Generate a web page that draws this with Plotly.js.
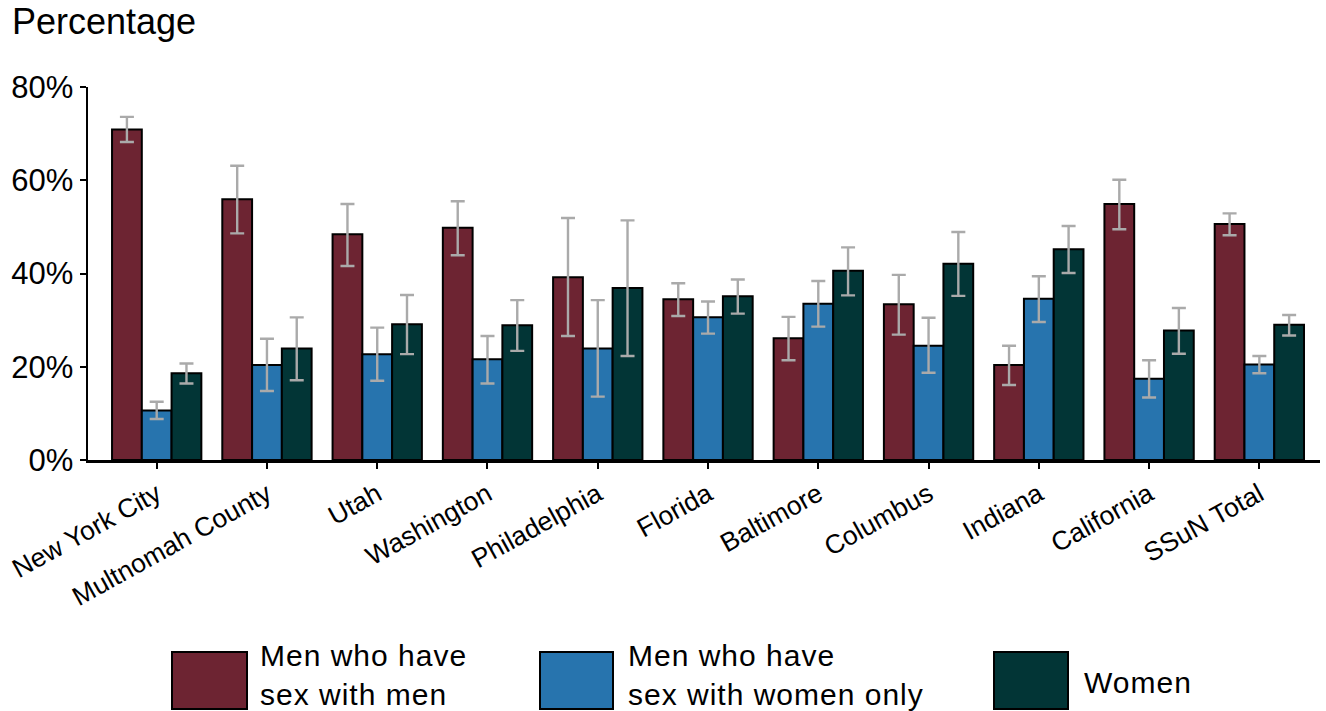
<!DOCTYPE html>
<html>
<head>
<meta charset="utf-8">
<script src="https://cdn.plot.ly/plotly-3.0.1.min.js"></script>
<style>
html,body{margin:0;padding:0;background:#fff;}
#chart{width:1326px;height:711px;}
#chart .annotation-text{letter-spacing:1px;}
</style>
</head>
<body>
<div id="chart"></div>
<script>
var categories = ["New York City","Multnomah County","Utah","Washington","Philadelphia","Florida","Baltimore","Columbus","Indiana","California","SSuN Total"];

var msmValues = [70.9, 55.9, 48.4, 49.8, 39.2, 34.5, 26.1, 33.4, 20.4, 54.9, 50.6];
var msmUpper  = [73.6, 63.1, 54.9, 55.5, 51.9, 37.9, 30.7, 39.7, 24.5, 60.1, 52.9];
var msmLower  = [68.2, 48.6, 41.6, 43.9, 26.6, 30.9, 21.4, 26.9, 16.1, 49.5, 48.2];

var mswValues = [10.6, 20.4, 22.7, 21.6, 23.9, 30.6, 33.5, 24.5, 34.6, 17.4, 20.5];
var mswUpper  = [12.5, 26.0, 28.4, 26.6, 34.3, 34.0, 38.4, 30.5, 39.4, 21.4, 22.3];
var mswLower  = [8.8, 14.8, 17.0, 16.4, 13.6, 27.1, 28.6, 18.7, 29.6, 13.4, 18.6];

var womenValues = [18.6, 23.9, 29.1, 28.9, 36.9, 35.1, 40.6, 42.1, 45.2, 27.8, 29.0];
var womenUpper  = [20.7, 30.6, 35.4, 34.3, 51.4, 38.7, 45.6, 48.9, 50.2, 32.6, 31.1];
var womenLower  = [16.4, 17.1, 22.7, 23.4, 22.3, 31.4, 35.3, 35.2, 40.1, 22.8, 26.7];

var seriesNames = ["Men who have sex with men", "Men who have sex with women only", "Women"];
var legendLabels = ["Men who have<br>sex with men", "Men who have<br>sex with women only", "Women"];
var seriesColors = ["#6d2432", "#2774ae", "#023536"];
var yTickVals = [0, 20, 40, 60, 80];
var yTickText = ["0%", "20%", "40%", "60%", "80%"];

function diff(a, b) { return a.map(function (v, i) { return +(v - b[i]).toFixed(2); }); }

function makeTrace(name, vals, up, lo, color) {
  return {
    type: "bar",
    name: name,
    x: categories,
    y: vals,
    marker: { color: color, line: { color: "#000000", width: 2 } },
    error_y: {
      type: "data", symmetric: false,
      array: diff(up, vals), arrayminus: diff(vals, lo),
      color: "#aaaaaa", thickness: 2.4, width: 7
    },
    showlegend: false,
    hovertemplate: "%{x}<br>%{y}%<extra>" + name + "</extra>"
  };
}

var traces = [
  makeTrace(seriesNames[0], msmValues, msmUpper, msmLower, seriesColors[0]),
  makeTrace(seriesNames[1], mswValues, mswUpper, mswLower, seriesColors[1]),
  makeTrace(seriesNames[2], womenValues, womenUpper, womenLower, seriesColors[2])
];

var FONT = "Liberation Sans, Arial, sans-serif";
var L = 88, T = 87, W = 1232, H = 373;
function px(x) { return (x - L) / W; }
function py(y) { return (T + H - y) / H; }

var swatchX = [[172, 247], [540, 613], [994, 1068]];
var labelX = [259, 627, 1083];

var shapes = swatchX.map(function (sx, i) {
  return { type: "rect", xref: "paper", yref: "paper", x0: px(sx[0]), x1: px(sx[1]), y0: py(652), y1: py(709),
    fillcolor: seriesColors[i], line: { color: "#000", width: 2 } };
});

var annotations = legendLabels.map(function (t, i) {
  var two = t.indexOf("<br>") >= 0;
  return { text: t, xref: "paper", yref: "paper", x: px(labelX[i]), y: two ? py(712) : py(682),
    xanchor: "left", yanchor: two ? "bottom" : "middle",
    showarrow: false, align: "left", borderpad: 0, font: { family: FONT, size: 30, color: "#000" } };
});

var layout = {
  width: 1326, height: 711,
  margin: { l: L, r: 1326 - L - W, t: T, b: 711 - T - H, pad: 0 },
  paper_bgcolor: "#ffffff", plot_bgcolor: "#ffffff",
  font: { family: FONT, color: "#000" },
  title: { text: "Percentage", xref: "container", yref: "container", x: 12 / 1326, xanchor: "left", y: 1 - 9 / 711, yanchor: "top",
    font: { family: FONT, size: 36, color: "#000" } },
  barmode: "group", bargap: 0.19, bargroupgap: 0,
  xaxis: {
    type: "category", range: [-0.623, 10.55], showgrid: false, zeroline: false,
    showline: true, linecolor: "#000", linewidth: 2.5,
    ticks: "outside", ticklen: 6, tickwidth: 2, tickcolor: "#000",
    tickangle: -29, tickfont: { family: FONT, size: 26.5, color: "#000" }
  },
  yaxis: {
    range: [0, 80], showgrid: false, zeroline: false,
    showline: true, linecolor: "#000", linewidth: 2.5,
    ticks: "outside", ticklen: 6, tickwidth: 2, tickcolor: "#000",
    tickvals: yTickVals, ticktext: yTickText,
    tickfont: { family: FONT, size: 31, color: "#000" }
  },
  shapes: shapes,
  annotations: annotations
};

Plotly.newPlot("chart", traces, layout, { displayModeBar: false, staticPlot: true });
</script>
</body>
</html>
